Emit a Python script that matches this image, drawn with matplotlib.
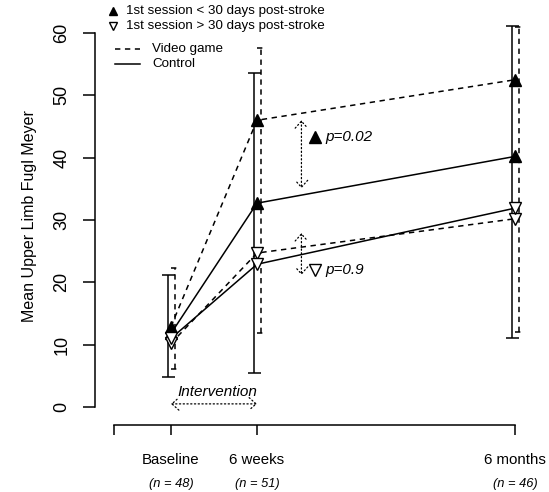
import numpy as np
import matplotlib
matplotlib.use('Agg')
import matplotlib.pyplot as plt
from matplotlib.lines import Line2D

plt.rcParams['font.family'] = ['Liberation Sans', 'DejaVu Sans']

W, H = 549, 492

# time points (weeks from baseline)
weeks = np.array([0, 6, 24])
time_labels = ['Baseline', '6 weeks', '6 months']
n_labels = ['(n = 48)', '(n = 51)', '(n = 46)']

# 1st session < 30 days post-stroke (filled triangles)
early_video = np.array([12.9, 46.0, 52.5])
early_control = np.array([11.8, 32.7, 40.2])
early_video_sd = np.array([9.4, 11.6, 8.5])
early_control_sd = np.array([9.4, 20.9, 21.0])

# 1st session > 30 days post-stroke (open triangles)
late_video = np.array([10.2, 24.7, 30.2])
late_control = np.array([11.0, 22.9, 31.9])
late_video_sd = np.array([4.1, 12.8, 18.2])
late_control_sd = np.array([6.2, 17.4, 20.8])

# p-value annotations: (top, bottom) of the arrows, label, marker, label height
p_arrows = [(46.0, 35.1, 'p=0.02', '^', 43.3), (27.9, 21.2, 'p=0.9', 'v', 22.0)]

dash = (0, (3.5, 3))
dots = (0, (1, 2))
LW = 1.1

fig = plt.figure(figsize=(W / 100, H / 100), dpi=100)
ax = fig.add_axes([95 / W, 1 - 425 / H, (530 - 95) / W, 425 / H])
ax.set_xlim(-5.302, 25.047)
ax.set_ylim(-2.888, 65.294)

# error bars: upper end from the early group, lower end from the late group
for hi_m, hi_sd, lo_m, lo_sd, off, ls, cw in [
        (early_control, early_control_sd, late_control, late_control_sd, -0.2, '-', 0.45),
        (early_video, early_video_sd, late_video, late_video_sd, 0.3, dash, 0.33)]:
    hi = hi_m + hi_sd
    lo = lo_m - lo_sd
    xs = weeks + off
    ax.vlines(xs, lo, hi, colors='black', linestyles=ls, lw=LW)
    ax.hlines(hi, xs - cw, xs + cw, colors='black', linestyles=ls, lw=LW)
    ax.hlines(lo, xs - cw, xs + cw, colors='black', linestyles=ls, lw=LW)

# mean lines
ax.plot(weeks, early_video, ls=dash, color='black', lw=LW)
ax.plot(weeks, early_control, ls='-', color='black', lw=LW)
ax.plot(weeks, late_video, ls=dash, color='black', lw=LW)
ax.plot(weeks, late_control, ls='-', color='black', lw=LW)

for y in [early_video, early_control]:
    ax.plot(weeks, y, ls='none', marker='^', ms=8.5, color='black', zorder=5)
for y in [late_video, late_control]:
    ax.plot(weeks, y, ls='none', marker='v', ms=8.5, mfc='white', mec='black', mew=1.0, zorder=5)

# p-value arrows
arrow_x = 9.1
for top, bot, lab, mk, ty in p_arrows:
    ax.annotate('', xy=(arrow_x, bot), xytext=(arrow_x, top),
                arrowprops=dict(arrowstyle='<->,head_length=0.5,head_width=0.45',
                                linestyle=dots, lw=0.9, color='black',
                                shrinkA=0, shrinkB=0))
    face = 'black' if mk == '^' else 'white'
    ax.plot([10.05], [ty], marker=mk, ms=8, mfc=face, mec='black', ls='none')
    ax.text(10.8, ty, lab, style='italic', fontsize=11, ha='left', va='center')

# intervention arrow
ax.annotate('', xy=(6, 0.5), xytext=(0, 0.5),
            arrowprops=dict(arrowstyle='<->,head_length=0.5,head_width=0.45',
                            linestyle=dots, lw=0.9, color='black',
                            shrinkA=0, shrinkB=0))
ax.text(3.24, 2.4, 'Intervention', style='italic', fontsize=11, ha='center', va='center')

# axes in R style
for s in ['top', 'right']:
    ax.spines[s].set_visible(False)
ax.spines['left'].set_linewidth(LW)
ax.spines['bottom'].set_linewidth(LW)
ax.spines['left'].set_bounds(0, 60)
ax.spines['bottom'].set_bounds(-4, 24)
ax.set_yticks(range(0, 61, 10))
ax.set_xticks([-4, 0, 6, 24], [''] + time_labels)
ax.tick_params(axis='y', length=8.6, width=LW, pad=9, labelsize=13)
ax.tick_params(axis='x', length=7.2, width=LW, pad=13, labelsize=10.8)
for lab in ax.get_yticklabels():
    lab.set_rotation(90)
    lab.set_va('center')
for w, n in zip(weeks, n_labels):
    ax.text(w, -12.4, n, style='italic', fontsize=9.3, ha='center', va='center', clip_on=False)

fig.text(30 / W, 1 - 216 / H, 'Mean Upper Limb Fugl Meyer', rotation=90,
         ha='center', va='center', fontsize=11.5)

# legends
def fxy(px, py):
    return px / W, 1 - py / H

for py, mk, face, lab in [(11, '^', 'black', '1st session < 30 days post-stroke'),
                          (26, 'v', 'white', '1st session > 30 days post-stroke')]:
    x, y = fxy(113, py)
    fig.add_artist(Line2D([x], [y], marker=mk, ms=6, mfc=face, mec='black',
                          ls='none', transform=fig.transFigure))
    fig.text(*fxy(126, py), lab, fontsize=9.6, ha='left', va='center')

for py, ls, lab in [(49, dash, 'Video game'), (64, '-', 'Control')]:
    x0, y = fxy(115, py)
    x1, _ = fxy(140, py)
    fig.add_artist(Line2D([x0, x1], [y, y], ls=ls, color='black', lw=LW,
                          transform=fig.transFigure))
    fig.text(*fxy(152, py), lab, fontsize=9.6, ha='left', va='center')

fig.savefig('out.png', dpi=100)
